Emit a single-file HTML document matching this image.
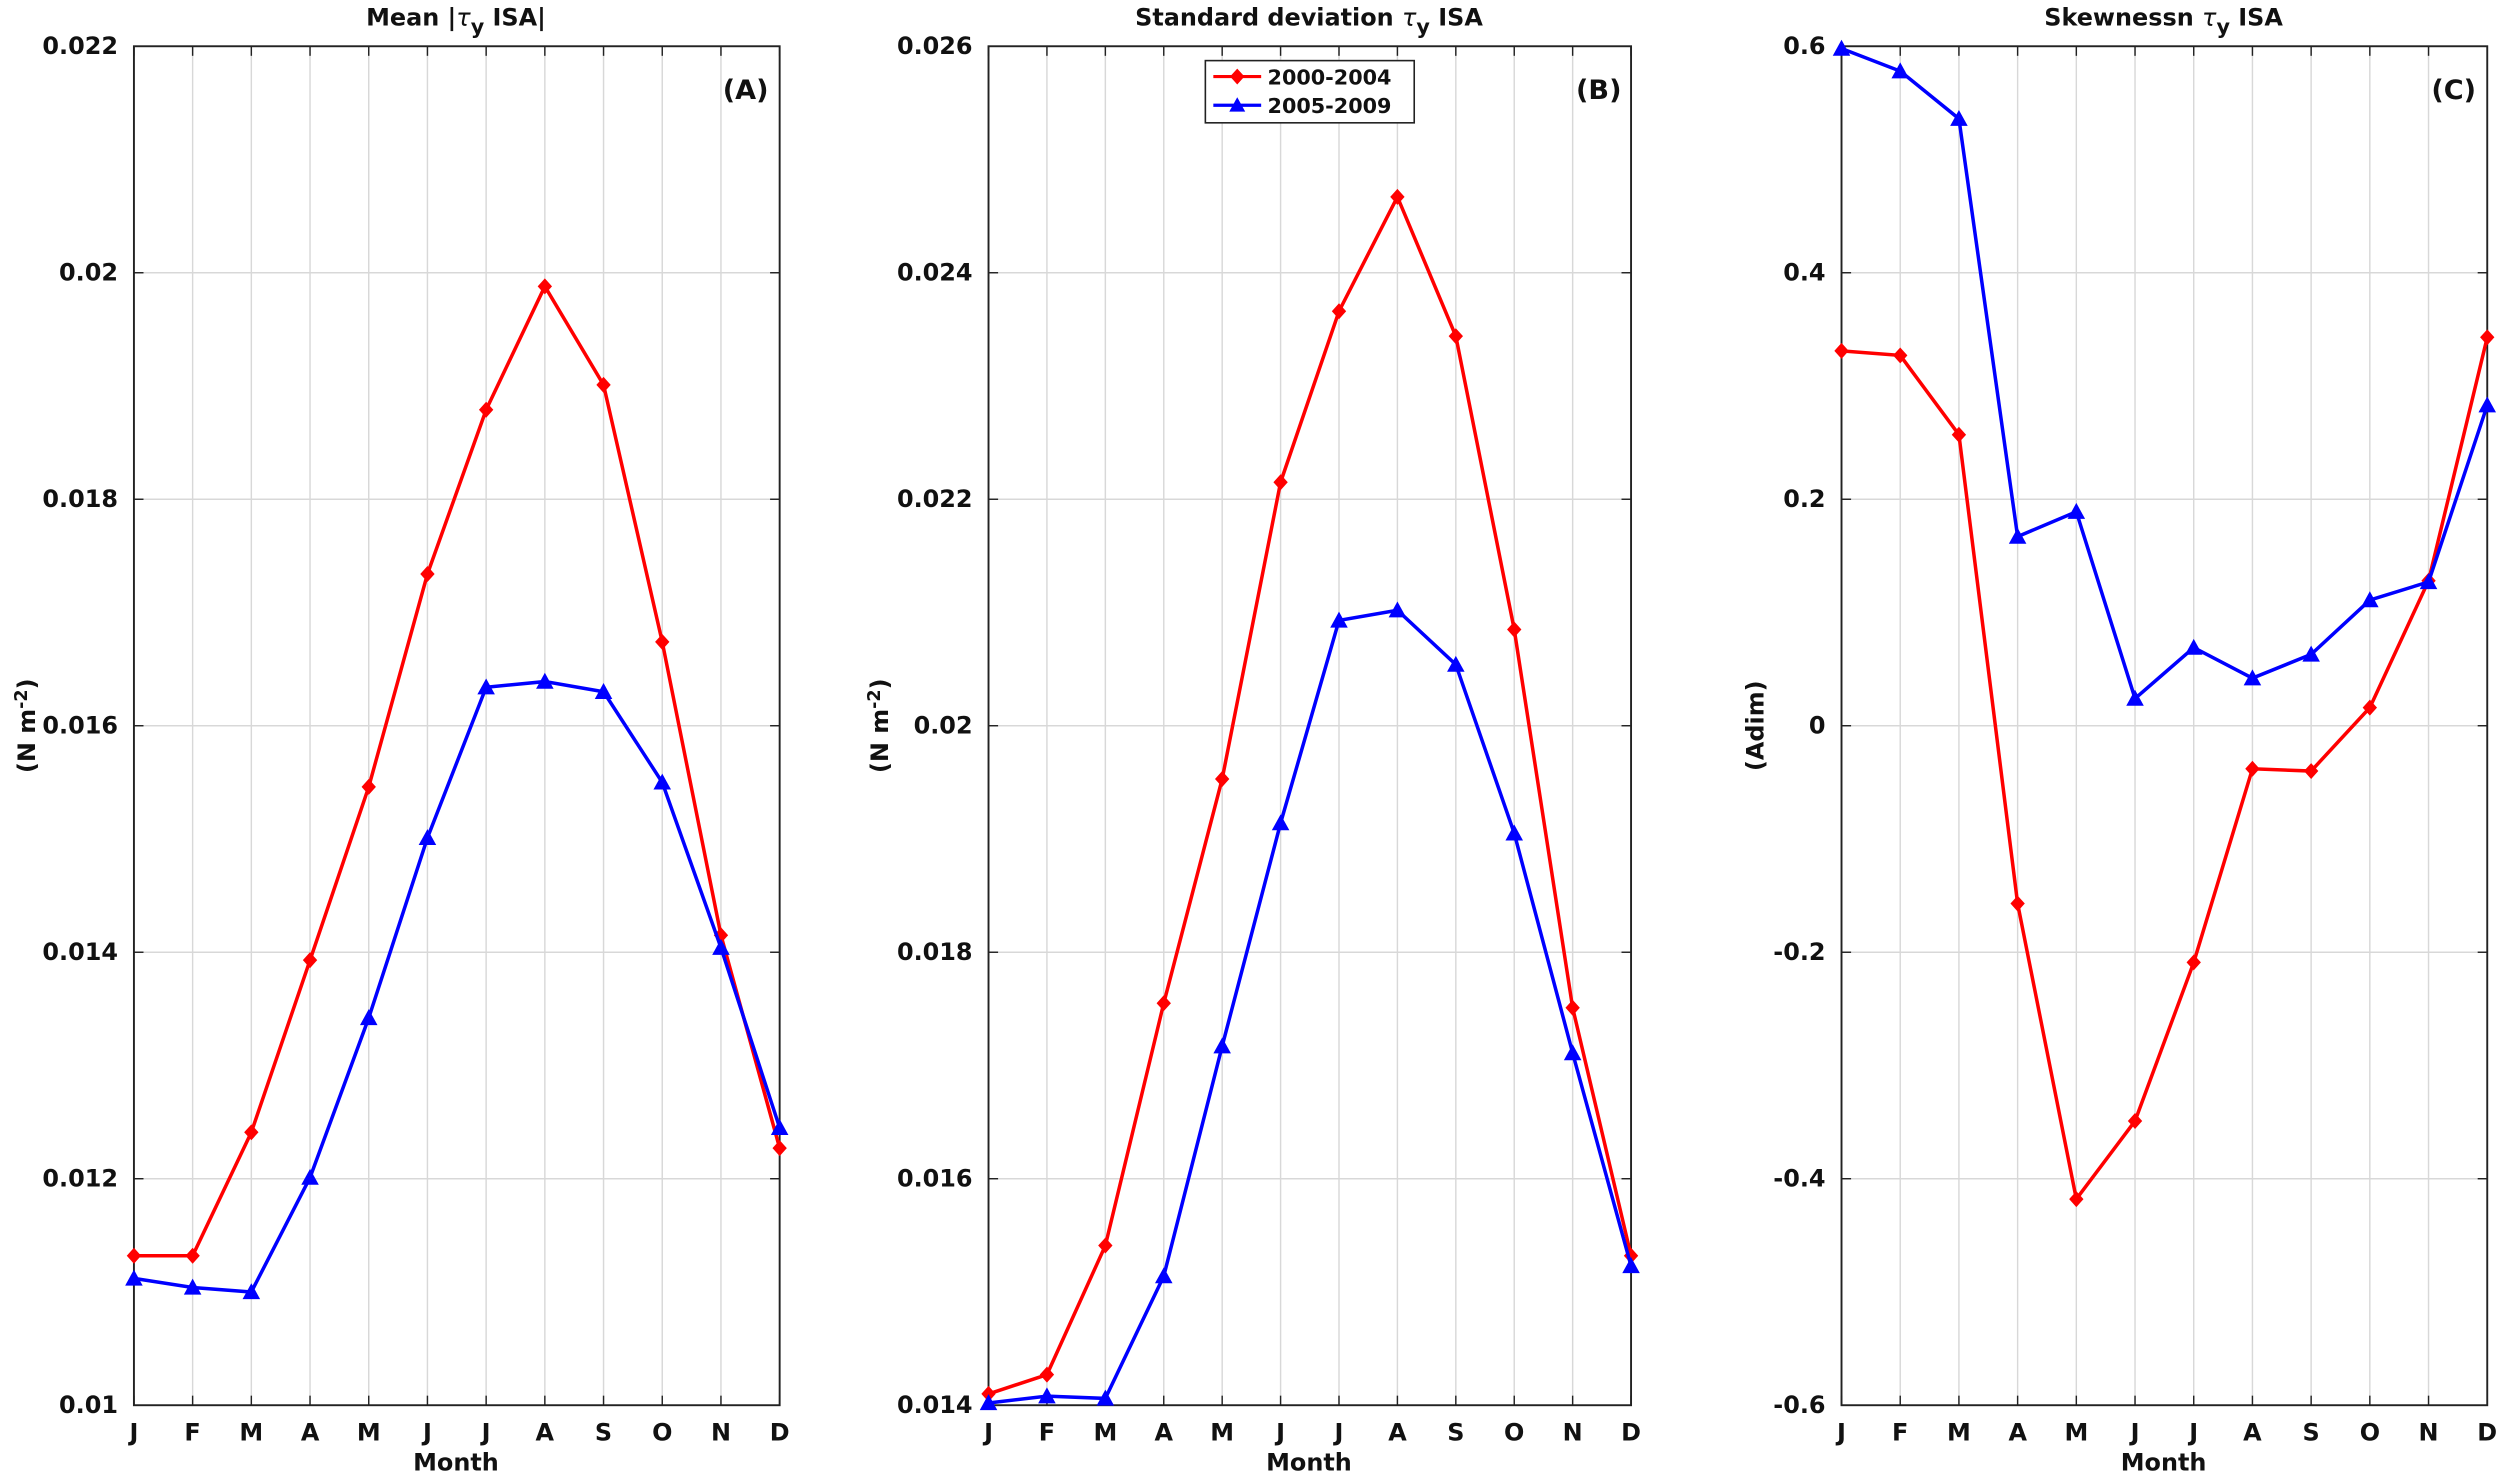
<!DOCTYPE html>
<html><head><meta charset="utf-8"><style>
html,body{margin:0;padding:0;background:#fff;}
svg{display:block;}
text{font-family:"DejaVu Sans","Liberation Sans",sans-serif;font-weight:bold;fill:#111;}
</style></head><body>
<svg id="s" width="2500" height="1477" viewBox="0 0 1568 926" preserveAspectRatio="none" xmlns="http://www.w3.org/2000/svg">
<rect width="1568" height="926" fill="#fff"/>
<g id="grid"></g>
<g id="data"></g>
<text x="286" y="16" font-size="15" text-anchor="middle">Mean |<tspan font-style="italic" font-weight="normal">τ</tspan><tspan dy="5" font-size="13">y</tspan><tspan dy="-5"> ISA|</tspan></text>
<text x="821" y="16" font-size="15" text-anchor="middle">Standard deviation <tspan font-style="italic" font-weight="normal">τ</tspan><tspan dy="5" font-size="13">y</tspan><tspan dy="-5"> ISA</tspan></text>
<text x="1357" y="16" font-size="15" text-anchor="middle">Skewnessn <tspan font-style="italic" font-weight="normal">τ</tspan><tspan dy="5" font-size="13">y</tspan><tspan dy="-5"> ISA</tspan></text>
<text x="482" y="62" font-size="17" text-anchor="end">(A)</text>
<text x="1017" y="62" font-size="17" text-anchor="end">(B)</text>
<text x="1553" y="62" font-size="17" text-anchor="end">(C)</text>
<g font-size="15" text-anchor="end">
<text x="74" y="34">0.022</text><text x="74" y="176">0.02</text><text x="74" y="318">0.018</text><text x="74" y="460">0.016</text><text x="74" y="602">0.014</text><text x="74" y="744">0.012</text><text x="74" y="886">0.01</text>
<text x="610" y="34">0.026</text><text x="610" y="176">0.024</text><text x="610" y="318">0.022</text><text x="610" y="460">0.02</text><text x="610" y="602">0.018</text><text x="610" y="744">0.016</text><text x="610" y="886">0.014</text>
<text x="1145" y="34">0.6</text><text x="1145" y="176">0.4</text><text x="1145" y="318">0.2</text><text x="1145" y="460">0</text><text x="1145" y="602">-0.2</text><text x="1145" y="744">-0.4</text><text x="1145" y="886">-0.6</text>
</g>
<g font-size="15" text-anchor="middle">
<text x="84" y="903">J</text><text x="120.8" y="903">F</text><text x="157.6" y="903">M</text><text x="194.5" y="903">A</text><text x="231.3" y="903">M</text><text x="268.1" y="903">J</text><text x="304.9" y="903">J</text><text x="341.7" y="903">A</text><text x="378.5" y="903">S</text><text x="415.4" y="903">O</text><text x="452.2" y="903">N</text><text x="489" y="903">D</text>
<text x="620" y="903">J</text><text x="656.6" y="903">F</text><text x="693.3" y="903">M</text><text x="729.9" y="903">A</text><text x="766.5" y="903">M</text><text x="803.2" y="903">J</text><text x="839.8" y="903">J</text><text x="876.5" y="903">A</text><text x="913.1" y="903">S</text><text x="949.7" y="903">O</text><text x="986.4" y="903">N</text><text x="1023" y="903">D</text>
<text x="1155" y="903">J</text><text x="1191.8" y="903">F</text><text x="1228.6" y="903">M</text><text x="1265.5" y="903">A</text><text x="1302.3" y="903">M</text><text x="1339.1" y="903">J</text><text x="1375.9" y="903">J</text><text x="1412.7" y="903">A</text><text x="1449.5" y="903">S</text><text x="1486.4" y="903">O</text><text x="1523.2" y="903">N</text><text x="1560" y="903">D</text>
<text x="286" y="922">Month</text><text x="821" y="922">Month</text><text x="1357" y="922">Month</text>
</g>
<text transform="translate(22,455) rotate(-90)" font-size="15" text-anchor="middle">(N m<tspan dy="-5" font-size="11">-2</tspan><tspan dy="5">)</tspan></text>
<text transform="translate(557,455) rotate(-90)" font-size="15" text-anchor="middle">(N m<tspan dy="-5" font-size="11">-2</tspan><tspan dy="5">)</tspan></text>
<text transform="translate(1106,455) rotate(-90)" font-size="15" text-anchor="middle">(Adim)</text>
<rect x="756" y="38" width="131" height="39" fill="#fff" stroke="#222" stroke-width="1"/>
<line x1="761" y1="48" x2="791" y2="48" stroke="#f00" stroke-width="2"/>
<path d="M776 43 L780.5 48 L776 53 L771.5 48 Z" fill="#f00"/>
<line x1="761" y1="66" x2="791" y2="66" stroke="#00f" stroke-width="2"/>
<path d="M776 61 L781 70 L771 70 Z" fill="#00f"/>
<text x="795" y="53" font-size="13">2000-2004</text>
<text x="795" y="71" font-size="13">2005-2009</text>
<script>
(function(){
var NS="http://www.w3.org/2000/svg";
var g=document.getElementById("grid"),d=document.getElementById("data");
function el(p,t,a){var e=document.createElementNS(NS,t);for(var k in a)e.setAttribute(k,a[k]);p.appendChild(e);return e;}
var P=[{l:84,r:489,min:0.01,max:0.022,
red:[.01132,.01132,.01241,.01393,.01546,.01734,.01879,.01988,.01901,.01674,.01415,.01227],
blue:[.01112,.01104,.01100,.01201,.01342,.01501,.01634,.01639,.01630,.01550,.01404,.01245]},
{l:620,r:1023,min:0.014,max:0.026,
red:[.01410,.01427,.01541,.01755,.01953,.02215,.02366,.02467,.02344,.02085,.01751,.01532],
blue:[.01402,.01408,.01406,.01514,.01717,.01914,.02093,.02102,.02054,.01905,.01711,.01523]},
{l:1155,r:1560,min:-0.6,max:0.6,
red:[.331,.327,.257,-.157,-.418,-.349,-.209,-.038,-.040,.016,.128,.343],
blue:[.598,.578,.536,.167,.189,.024,.069,.042,.063,.111,.127,.283]}];
var T=29,B=881;
P.forEach(function(p){
 var dx=(p.r-p.l)/11;
 for(var i=0;i<12;i++){var x=p.l+i*dx;
  el(g,"line",{x1:x,y1:T,x2:x,y2:B,stroke:"#d8d8d8","stroke-width":0.9});
  el(g,"line",{x1:x,y1:B,x2:x,y2:B-6,stroke:"#222","stroke-width":0.9});
  el(g,"line",{x1:x,y1:T,x2:x,y2:T+6,stroke:"#222","stroke-width":0.9});}
 for(var j=0;j<7;j++){var y=T+j*142;
  el(g,"line",{x1:p.l,y1:y,x2:p.r,y2:y,stroke:"#d8d8d8","stroke-width":0.9});
  el(g,"line",{x1:p.l,y1:y,x2:p.l+6,y2:y,stroke:"#222","stroke-width":0.9});
  el(g,"line",{x1:p.r,y1:y,x2:p.r-6,y2:y,stroke:"#222","stroke-width":0.9});}
 el(g,"rect",{x:p.l,y:T,width:p.r-p.l,height:B-T,fill:"none",stroke:"#222","stroke-width":1.2});
 function Y(v){return B-(v-p.min)/(p.max-p.min)*(B-T);}
 [["red","#f00"],["blue","#00f"]].forEach(function(s){
  var pts=p[s[0]].map(function(v,i){return (p.l+i*dx)+","+Y(v);}).join(" ");
  el(d,"polyline",{points:pts,fill:"none",stroke:s[1],"stroke-width":2.2});
  p[s[0]].forEach(function(v,i){var x=p.l+i*dx,y=Y(v);
   if(s[0]=="red")el(d,"path",{d:"M"+x+" "+(y-5)+" L"+(x+4.5)+" "+y+" L"+x+" "+(y+5)+" L"+(x-4.5)+" "+y+" Z",fill:s[1]});
   else el(d,"path",{d:"M"+x+" "+(y-5.5)+" L"+(x+5.5)+" "+(y+4.5)+" L"+(x-5.5)+" "+(y+4.5)+" Z",fill:s[1]});});
 });
});
})();
</script>
</svg>
</body></html>
